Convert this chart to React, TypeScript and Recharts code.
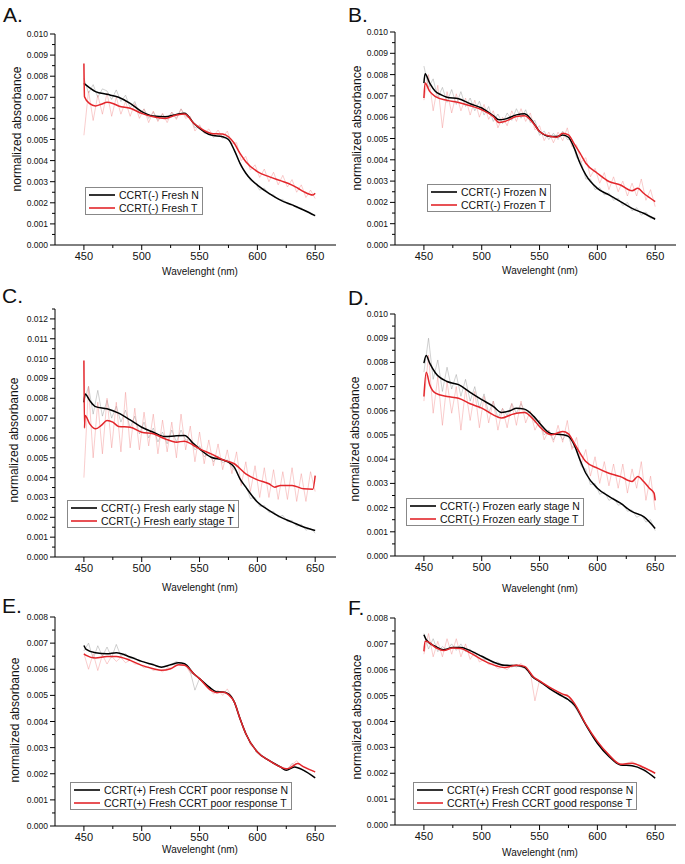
import React from 'react';
import { LineChart, Line, XAxis, YAxis } from 'recharts';

// absorbance is stored in units of 1e-3 (7.6 -> 0.0076); tick labels convert back

const X_TICKS = [450, 475, 500, 525, 550, 575, 600, 625, 650];
const Y_MAJ_10 = [0, 1, 2, 3, 4, 5, 6, 7, 8, 9, 10];
const Y_MAJ_12 = [0, 1, 2, 3, 4, 5, 6, 7, 8, 9, 10, 11, 12];
const Y_MAJ_8 = [0, 1, 2, 3, 4, 5, 6, 7, 8];

const NAMES_A = ['CCRT(-) Fresh N', 'CCRT(-) Fresh T'];
const NAMES_B = ['CCRT(-) Frozen N', 'CCRT(-) Frozen T'];
const NAMES_C = ['CCRT(-) Fresh early stage N', 'CCRT(-) Fresh early stage T'];
const NAMES_D = ['CCRT(-) Frozen early stage N', 'CCRT(-) Frozen early stage T'];
const NAMES_E = ['CCRT(+) Fresh CCRT poor response N', 'CCRT(+) Fresh CCRT poor response T'];
const NAMES_F = ['CCRT(+) Fresh CCRT good response N', 'CCRT(+) Fresh CCRT good response T'];

// smoothed curves: [wavelength, absorbance]
const A_N_SMOOTH = [[450, 7.66], [455, 7.45], [460, 7.27], [470, 7.14], [480, 7.0], [490, 6.71], [500, 6.32], [510, 6.11], [520, 6.08], [530, 6.19], [537, 6.24], [545, 5.77], [550, 5.53], [560, 5.21], [570, 5.13], [575, 5.0], [580, 4.5], [585, 3.87], [590, 3.4], [595, 3.08], [600, 2.84], [610, 2.45], [620, 2.13], [630, 1.9], [640, 1.66], [650, 1.39]];
const A_T_SMOOTH = [[450, 8.6], [450.5, 7.03], [455, 6.7], [460, 6.59], [465, 6.67], [470, 6.76], [475, 6.71], [480, 6.59], [490, 6.48], [500, 6.24], [510, 6.08], [520, 6.0], [530, 6.16], [537, 6.21], [545, 5.77], [550, 5.56], [560, 5.29], [570, 5.26], [575, 5.13], [580, 4.82], [585, 4.34], [590, 3.95], [600, 3.48], [610, 3.24], [620, 3.05], [630, 2.84], [635, 2.69], [640, 2.53], [648, 2.37], [650, 2.45]];
const B_N_SMOOTH = [[450, 7.6], [451, 8.04], [455, 7.6], [460, 7.21], [465, 7.05], [470, 6.94], [480, 6.87], [490, 6.63], [500, 6.43], [510, 6.07], [515, 5.88], [520, 5.91], [530, 6.11], [537, 6.16], [545, 5.72], [550, 5.33], [560, 5.09], [565, 5.09], [570, 5.17], [575, 5.06], [580, 4.55], [585, 3.84], [590, 3.29], [600, 2.66], [610, 2.35], [620, 2.04], [630, 1.72], [640, 1.49], [650, 1.21]];
const B_T_SMOOTH = [[450, 6.9], [451, 7.6], [455, 7.21], [460, 6.97], [470, 6.79], [480, 6.69], [490, 6.54], [500, 6.35], [510, 6.03], [515, 5.75], [520, 5.8], [530, 6.03], [537, 6.07], [545, 5.69], [550, 5.33], [560, 5.09], [565, 5.06], [570, 5.25], [575, 5.17], [580, 4.75], [585, 4.31], [590, 3.84], [600, 3.37], [610, 2.98], [620, 2.82], [630, 2.55], [635, 2.66], [640, 2.43], [650, 2.04]];
const C_N_SMOOTH = [[450, 7.8], [451, 8.22], [455, 7.89], [460, 7.58], [470, 7.47], [480, 7.25], [490, 6.91], [500, 6.54], [510, 6.29], [520, 6.07], [530, 6.11], [537, 6.12], [545, 5.7], [550, 5.45], [560, 5.03], [570, 4.9], [575, 4.78], [580, 4.53], [585, 3.94], [590, 3.52], [600, 2.77], [610, 2.35], [620, 2.01], [630, 1.76], [640, 1.51], [650, 1.34]];
const C_T_SMOOTH = [[450, 9.9], [450.5, 6.5], [451, 7.13], [455, 6.71], [460, 6.46], [465, 6.63], [470, 6.88], [475, 6.8], [480, 6.58], [490, 6.54], [500, 6.29], [510, 6.21], [520, 5.96], [530, 5.79], [537, 5.84], [545, 5.62], [550, 5.45], [560, 5.2], [570, 4.9], [580, 4.7], [590, 4.19], [600, 3.89], [610, 3.69], [615, 3.52], [620, 3.61], [630, 3.61], [640, 3.44], [648, 3.42], [650, 4.1]];
const D_N_SMOOTH = [[450, 7.97], [452, 8.28], [455, 7.97], [460, 7.56], [470, 7.21], [480, 7.08], [490, 6.76], [500, 6.46], [510, 6.18], [517, 5.93], [525, 6.01], [530, 6.11], [537, 6.07], [545, 5.77], [550, 5.49], [560, 5.05], [570, 5.01], [575, 4.94], [580, 4.59], [585, 3.97], [590, 3.42], [600, 2.8], [610, 2.46], [620, 2.18], [630, 1.83], [640, 1.63], [650, 1.14]];
const D_T_SMOOTH = [[450, 6.59], [452, 7.59], [455, 7.08], [460, 6.73], [470, 6.59], [480, 6.52], [490, 6.29], [500, 6.11], [510, 5.83], [517, 5.7], [525, 5.83], [530, 5.9], [537, 5.93], [545, 5.63], [550, 5.35], [560, 5.01], [570, 5.14], [575, 5.05], [580, 4.66], [585, 4.25], [590, 3.9], [600, 3.63], [610, 3.42], [620, 3.28], [630, 3.08], [635, 3.28], [640, 3.08], [645, 2.8], [649, 2.6], [650, 2.3]];
const E_N_SMOOTH = [[450, 6.91], [452, 6.76], [460, 6.63], [470, 6.59], [478, 6.63], [490, 6.47], [500, 6.3], [510, 6.17], [517, 6.08], [525, 6.17], [532, 6.25], [537, 6.21], [545, 5.83], [550, 5.64], [560, 5.26], [565, 5.13], [570, 5.13], [575, 5.06], [580, 4.75], [585, 4.11], [590, 3.53], [600, 2.83], [610, 2.51], [620, 2.26], [625, 2.13], [632, 2.26], [640, 2.13], [650, 1.84]];
const E_T_SMOOTH = [[450, 6.59], [452, 6.53], [460, 6.43], [470, 6.49], [478, 6.49], [490, 6.34], [500, 6.15], [510, 6.02], [517, 5.96], [525, 6.02], [532, 6.17], [537, 6.15], [545, 5.83], [550, 5.64], [560, 5.19], [565, 5.1], [570, 5.13], [575, 5.03], [580, 4.75], [585, 4.11], [590, 3.53], [600, 2.83], [610, 2.51], [620, 2.26], [625, 2.19], [628, 2.22], [635, 2.39], [640, 2.26], [650, 2.07]];
const F_N_SMOOTH = [[450, 7.35], [452, 7.16], [460, 6.9], [467, 6.77], [475, 6.86], [482, 6.86], [490, 6.74], [500, 6.52], [510, 6.3], [520, 6.17], [530, 6.16], [537, 6.09], [545, 5.68], [550, 5.55], [560, 5.23], [570, 4.97], [575, 4.84], [580, 4.65], [590, 3.87], [600, 3.16], [610, 2.65], [620, 2.32], [630, 2.29], [640, 2.13], [650, 1.81]];
const F_T_SMOOTH = [[450, 6.71], [451, 7.1], [452, 7.1], [460, 6.86], [467, 6.74], [475, 6.84], [482, 6.82], [490, 6.65], [500, 6.39], [510, 6.19], [520, 6.09], [530, 6.17], [537, 6.13], [545, 5.71], [550, 5.57], [560, 5.29], [570, 5.06], [575, 4.97], [580, 4.71], [590, 3.9], [600, 3.23], [610, 2.71], [620, 2.35], [630, 2.39], [640, 2.22], [650, 2.0]];

// raw (unsmoothed) spectra, sampled every 4 nm
const RAW_X = [450, 454, 458, 462, 466, 470, 474, 478, 482, 486, 490, 494, 498, 502, 506, 510, 514, 518, 522, 526, 530, 534, 538, 542, 546, 550, 554, 558, 562, 566, 570, 574, 578, 582, 586, 590, 594, 598, 602, 606, 610, 614, 618, 622, 626, 630, 634, 638, 642, 646, 650];
const A_N_RAW = [7.9, 7.2, 7.6, 7.0, 7.4, 7.3, 6.9, 7.35, 6.8, 7.1, 6.5, 6.8, 6.2, 6.45, 6.0, 6.3, 5.9, 6.2, 5.95, 6.3, 6.0, 6.45, 6.1, 6.05, 5.55, 5.65, 5.3, 5.35, 5.1, 5.25, 5.05, 5.15, 4.7, 4.3, 3.7, 3.45, 3.05, 2.95, 2.6, 2.7, 2.4, 2.38, 2.15, 2.16, 1.95, 1.94, 1.76, 1.76, 1.57, 1.54, 1.35];
const A_T_RAW = [5.2, 7.3, 5.9, 7.1, 6.2, 7.2, 6.1, 7.0, 6.2, 6.8, 6.1, 6.7, 6.0, 6.45, 5.8, 6.35, 5.85, 6.25, 5.8, 6.3, 5.95, 6.45, 6.0, 6.1, 5.4, 5.7, 5.3, 5.5, 5.15, 5.45, 5.1, 5.4, 4.8, 4.85, 4.0, 4.2, 3.55, 3.8, 3.2, 3.6, 3.0, 3.45, 2.85, 3.3, 2.75, 3.1, 2.5, 2.85, 2.25, 2.6, 2.2];
const B_N_RAW = [8.4, 7.4, 7.8, 6.9, 7.4, 6.7, 7.3, 6.6, 7.2, 6.5, 6.9, 6.3, 6.75, 6.1, 6.5, 5.8, 6.15, 5.7, 6.2, 5.85, 6.4, 5.95, 6.35, 5.75, 5.85, 5.15, 5.35, 4.95, 5.25, 4.95, 5.35, 4.95, 4.95, 4.1, 3.9, 3.1, 3.1, 2.6, 2.7, 2.35, 2.45, 2.1, 2.2, 1.85, 2.0, 1.6, 1.75, 1.4, 1.55, 1.25, 1.3];
const B_T_RAW = [6.8, 8.0, 6.3, 7.5, 5.5, 7.2, 6.2, 7.1, 6.3, 6.9, 6.1, 6.8, 6.0, 6.6, 5.9, 6.3, 5.5, 6.0, 5.6, 6.3, 5.8, 6.4, 5.8, 6.2, 5.4, 5.6, 4.9, 5.3, 4.8, 5.3, 4.9, 5.5, 4.6, 4.7, 3.9, 4.1, 3.2, 3.6, 2.9, 3.4, 2.6, 3.2, 2.5, 3.0, 2.3, 2.9, 2.3, 3.1, 2.1, 2.6, 1.8];
const C_N_RAW = [7.8, 8.6, 7.2, 8.4, 7.1, 7.9, 7.0, 7.6, 6.8, 7.4, 6.5, 7.1, 6.2, 6.8, 6.0, 6.5, 5.8, 6.3, 5.7, 6.4, 5.8, 6.4, 5.9, 5.9, 5.4, 5.6, 5.05, 5.25, 4.8, 5.1, 4.75, 4.9, 4.5, 4.3, 3.75, 3.6, 2.95, 3.0, 2.55, 2.6, 2.25, 2.3, 2.0, 2.1, 1.78, 1.85, 1.55, 1.65, 1.35, 1.45, 1.2];
const C_T_RAW = [4.0, 8.6, 5.0, 7.8, 5.2, 8.0, 5.5, 7.8, 5.3, 8.3, 5.5, 7.5, 5.4, 7.3, 5.6, 7.2, 5.2, 6.9, 5.3, 6.8, 5.0, 7.2, 5.4, 6.6, 4.8, 6.3, 4.7, 5.9, 4.6, 5.7, 4.4, 5.4, 4.2, 5.3, 3.6, 4.8, 3.3, 4.6, 3.0, 4.5, 3.0, 4.4, 2.9, 4.3, 2.9, 4.5, 2.8, 4.2, 2.8, 4.3, 3.3];
const D_N_RAW = [7.6, 9.0, 7.3, 8.1, 6.8, 7.8, 6.9, 7.5, 6.6, 7.3, 6.4, 7.0, 6.1, 6.7, 5.9, 6.4, 5.7, 6.1, 5.8, 6.3, 5.9, 6.3, 5.9, 5.95, 5.5, 5.6, 5.0, 5.2, 4.8, 5.15, 4.8, 5.1, 4.5, 4.5, 3.7, 3.6, 2.95, 3.0, 2.55, 2.65, 2.3, 2.4, 2.1, 2.15, 1.85, 1.9, 1.6, 1.7, 1.4, 1.5, 1.05];
const D_T_RAW = [6.4, 8.3, 5.9, 7.4, 5.4, 7.2, 5.9, 7.0, 5.2, 6.9, 5.6, 6.8, 5.3, 6.6, 5.5, 6.4, 5.2, 6.1, 5.3, 6.3, 5.4, 6.4, 5.5, 6.0, 5.2, 5.6, 4.8, 5.2, 4.7, 5.4, 4.7, 5.6, 4.4, 4.9, 3.8, 4.4, 3.3, 4.1, 3.0, 3.9, 2.9, 3.8, 2.8, 3.8, 2.6, 3.6, 2.8, 3.9, 2.3, 3.3, 1.9];
const E_N_RAW = [6.7, 7.0, 6.4, 6.9, 6.5, 6.85, 6.45, 6.95, 6.5, 6.6, 6.4, 6.45, 6.3, 6.3, 6.2, 6.2, 6.1, 6.1, 6.15, 6.2, 6.3, 6.2, 6.2, 5.9, 5.2, 5.65, 5.45, 5.35, 5.2, 5.15, 5.1, 5.1, 4.95, 4.5, 4.0, 3.55, 3.15, 2.95, 2.75, 2.6, 2.5, 2.4, 2.3, 2.2, 2.15, 2.4, 2.25, 2.2, 2.1, 2.0, 1.85];
const E_T_RAW = [6.6, 6.0, 6.6, 5.95, 6.55, 6.2, 6.5, 6.3, 6.45, 6.25, 6.35, 6.2, 6.2, 6.05, 6.1, 5.95, 6.0, 5.9, 6.05, 6.05, 6.2, 6.15, 6.15, 5.85, 5.8, 5.6, 5.5, 5.3, 5.05, 5.2, 5.0, 5.25, 4.9, 4.55, 4.0, 3.6, 3.1, 2.95, 2.75, 2.6, 2.5, 2.4, 2.3, 2.2, 2.2, 2.35, 2.5, 2.3, 2.25, 2.15, 2.05];
const F_N_RAW = [7.4, 6.8, 7.2, 6.7, 6.9, 6.75, 7.0, 6.75, 7.0, 6.7, 6.8, 6.55, 6.6, 6.4, 6.4, 6.25, 6.3, 6.15, 6.2, 6.1, 6.2, 6.1, 6.05, 5.85, 5.7, 5.5, 5.45, 5.25, 5.2, 5.05, 4.95, 4.9, 4.7, 4.45, 4.15, 3.85, 3.55, 3.25, 3.05, 2.8, 2.65, 2.5, 2.35, 2.3, 2.3, 2.3, 2.25, 2.15, 2.05, 1.95, 1.8];
const F_T_RAW = [6.6, 7.4, 6.5, 7.1, 6.5, 7.2, 6.6, 7.2, 6.5, 7.0, 6.4, 6.7, 6.3, 6.4, 6.2, 6.2, 6.05, 6.1, 6.0, 6.2, 6.1, 6.25, 6.0, 5.9, 4.8, 5.6, 5.4, 5.3, 5.15, 5.1, 5.0, 5.05, 4.8, 4.5, 4.2, 3.9, 3.6, 3.3, 3.1, 2.85, 2.7, 2.55, 2.4, 2.35, 2.4, 2.45, 2.35, 2.3, 2.2, 2.1, 2.0];

const FONT = '"Liberation Sans", Arial, sans-serif';
const RED = '#e3262b';
const AXIS_X = 55;

const toPts = (pairs: number[][]) => pairs.map(([x, y]) => ({ x, y }));
const rawPts = (vals: number[]) => vals.map((y, i) => ({ x: RAW_X[i], y }));

// layout in page pixels
const PANELS = [
  { letter: 'A.', left: 0, top: 0, letterX: 3, letterY: 22, plotTop: 34, plotBottom: 245, axisH: 45, yMax: 10, majors: Y_MAJ_10, yTitle: [17, 129], xTitleY: 271, legend: [85, 187], names: NAMES_A, n: A_N_SMOOTH, t: A_T_SMOOTH, nRaw: A_N_RAW, tRaw: A_T_RAW },
  { letter: 'B.', left: 340, top: 0, letterX: 8, letterY: 22, plotTop: 32, plotBottom: 245, axisH: 45, yMax: 10, majors: Y_MAJ_10, yTitle: [17, 128], xTitleY: 270, legend: [427, 184], names: NAMES_B, n: B_N_SMOOTH, t: B_T_SMOOTH, nRaw: B_N_RAW, tRaw: B_T_RAW },
  { letter: 'C.', left: 0, top: 280, letterX: 2, letterY: 303, plotTop: 309, plotBottom: 557, axisH: 45, yMax: 12.5, majors: Y_MAJ_12, yTitle: [14, 160], xTitleY: 587, legend: [67, 500], names: NAMES_C, n: C_N_SMOOTH, t: C_T_SMOOTH, nRaw: C_N_RAW, tRaw: C_T_RAW },
  { letter: 'D.', left: 340, top: 280, letterX: 8, letterY: 305, plotTop: 314, plotBottom: 556, axisH: 45, yMax: 10, majors: Y_MAJ_10, yTitle: [15, 159], xTitleY: 588, legend: [406, 498], names: NAMES_D, n: D_N_SMOOTH, t: D_T_SMOOTH, nRaw: D_N_RAW, tRaw: D_T_RAW },
  { letter: 'E.', left: 0, top: 575, letterX: 2, letterY: 613, plotTop: 617, plotBottom: 826, axisH: 36, yMax: 8, majors: Y_MAJ_8, yTitle: [15, 145], xTitleY: 849, legend: [70, 782], names: NAMES_E, n: E_N_SMOOTH, t: E_T_SMOOTH, nRaw: E_N_RAW, tRaw: E_T_RAW },
  { letter: 'F.', left: 340, top: 575, letterX: 8, letterY: 615, plotTop: 618, plotBottom: 825, axisH: 36, yMax: 8, majors: Y_MAJ_8, yTitle: [17, 142], xTitleY: 852, legend: [413, 782], names: NAMES_F, n: F_N_SMOOTH, t: F_T_SMOOTH, nRaw: F_N_RAW, tRaw: F_T_RAW },
];

const YTick = (props: any) => {
  const { y, payload } = props;
  const v = payload.value;
  const major = Number.isInteger(v);
  return (
    <g>
      <line x1={AXIS_X} x2={AXIS_X - (major ? 5 : 3)} y1={y} y2={y} stroke="#000" strokeWidth={1} />
      {major && (
        <text x={AXIS_X - 7} y={y} dy={3} textAnchor="end" fontSize={8.5} fill="#111" style={{ fontFamily: FONT }}>
          {(v / 1000).toFixed(3)}
        </text>
      )}
    </g>
  );
};

const XTick = (props: any) => {
  const { x, payload, axisY } = props;
  const v = payload.value;
  const major = v % 50 === 0;
  return (
    <g>
      <line x1={x} x2={x} y1={axisY} y2={axisY + (major ? 5 : 3)} stroke="#000" strokeWidth={1} />
      {major && (
        <text x={x} y={axisY + 15} textAnchor="middle" fontSize={11} fill="#111" style={{ fontFamily: FONT }}>
          {v}
        </text>
      )}
    </g>
  );
};

const YTitle = ({ px, py }: any) => (
  <text x={px} y={py} transform={`rotate(-90 ${px} ${py})`} textAnchor="middle" dy="0.35em" fontSize={12} fill="#111" style={{ fontFamily: FONT }}>
    normalized absorbance
  </text>
);

const XTitle = ({ px, py }: any) => (
  <text x={px} y={py} textAnchor="middle" dy="0.35em" fontSize={10} fill="#111" style={{ fontFamily: FONT }}>
    Wavelenght (nm)
  </text>
);

const Panel = ({ cfg }: any) => {
  const width = 340;
  const height = cfg.plotBottom - cfg.top + cfg.axisH;
  const axisY = cfg.plotBottom - cfg.top;
  const yTicks = [...cfg.majors, ...cfg.majors.map((v: number) => v + 0.5).filter((v: number) => v <= cfg.yMax)].sort((a, b) => a - b);
  const lineRow = (color: string, name: string) => (
    <div style={{ display: 'flex', alignItems: 'center', height: 13 }}>
      <svg width={28} height={6} style={{ marginRight: 3 }}>
        <line x1={1} x2={27} y1={3} y2={3} stroke={color} strokeWidth={1.6} />
      </svg>
      <span>{name}</span>
    </div>
  );
  return (
    <div style={{ position: 'absolute', left: cfg.left, top: cfg.top, width, height }}>
      <LineChart width={width} height={height} margin={{ top: cfg.plotTop - cfg.top, right: 4, bottom: 0, left: 0 }}>
        <XAxis
          dataKey="x"
          type="number"
          domain={[425, 668]}
          allowDataOverflow
          ticks={X_TICKS}
          interval={0}
          tickLine={false}
          axisLine={{ stroke: '#000' }}
          height={cfg.axisH}
          tick={(p: any) => <XTick {...p} axisY={axisY} />}
          label={<XTitle px={200} py={cfg.xTitleY - cfg.top} />}
        />
        <YAxis
          type="number"
          domain={[0, cfg.yMax]}
          allowDataOverflow
          ticks={yTicks}
          interval={0}
          width={AXIS_X}
          tickLine={false}
          axisLine={{ stroke: '#000' }}
          tick={(p: any) => <YTick {...p} />}
          label={<YTitle px={cfg.yTitle[0]} py={cfg.yTitle[1]} />}
        />
        <Line data={rawPts(cfg.nRaw)} dataKey="y" type="linear" stroke="#8c8c8c" strokeOpacity={0.5} strokeWidth={0.8} dot={false} legendType="none" isAnimationActive={false} />
        <Line data={rawPts(cfg.tRaw)} dataKey="y" type="linear" stroke="#f28b8b" strokeOpacity={0.55} strokeWidth={0.8} dot={false} legendType="none" isAnimationActive={false} />
        <Line data={toPts(cfg.n)} dataKey="y" name={cfg.names[0]} type="monotone" stroke="#000" strokeWidth={1.5} dot={false} isAnimationActive={false} />
        <Line data={toPts(cfg.t)} dataKey="y" name={cfg.names[1]} type="monotone" stroke={RED} strokeWidth={1.5} dot={false} isAnimationActive={false} />
      </LineChart>
      <div
        style={{
          position: 'absolute',
          left: cfg.legend[0] - cfg.left,
          top: cfg.legend[1] - cfg.top,
          border: '1px solid #888',
          background: '#fff',
          padding: '0px 3px 0px 2px',
          fontSize: 10.5,
          color: '#111',
          fontFamily: FONT,
          whiteSpace: 'nowrap',
        }}
      >
        {lineRow('#000', cfg.names[0])}
        {lineRow(RED, cfg.names[1])}
      </div>
      <div
        style={{
          position: 'absolute',
          left: cfg.letterX,
          top: cfg.letterY - cfg.top - 18,
          fontSize: 21,
          lineHeight: '21px',
          fontFamily: FONT,
          color: '#111',
        }}
      >
        {cfg.letter}
      </div>
    </div>
  );
};

export default function App() {
  return (
    <div style={{ position: 'absolute', left: 0, top: 0, width: 685, height: 864, overflow: 'hidden', background: '#fff', fontFamily: FONT }}>
      {PANELS.map((cfg) => (
        <Panel key={cfg.letter} cfg={cfg} />
      ))}
    </div>
  );
}
